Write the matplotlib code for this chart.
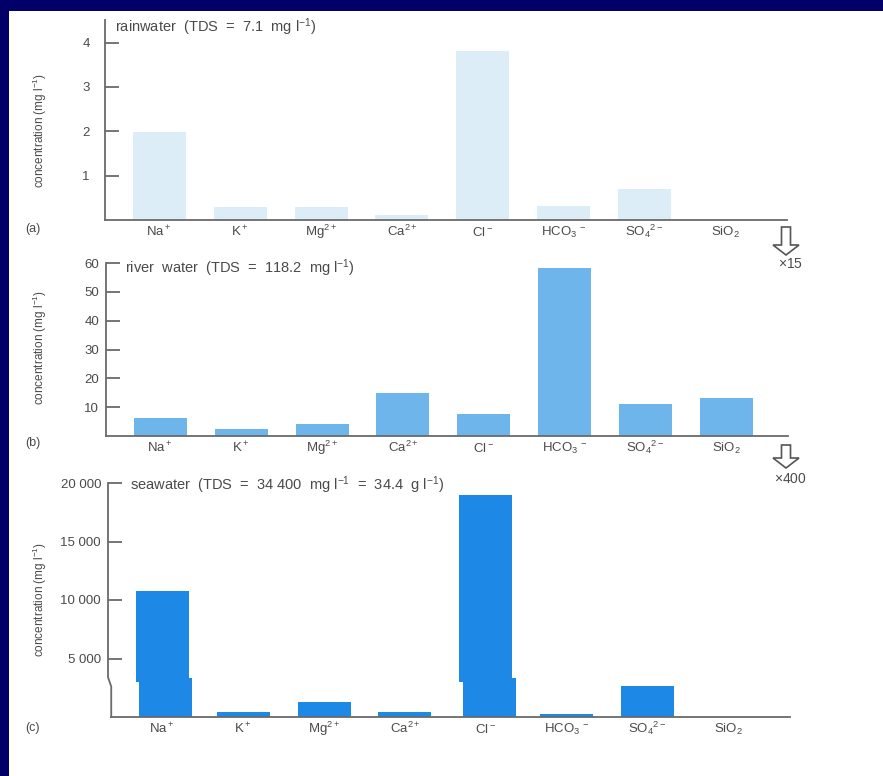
import matplotlib
matplotlib.use('Agg')
import matplotlib.pyplot as plt
from matplotlib.patches import Rectangle, FancyArrow

# ion labels and concentrations (mg l-1)
ions = [r'Na$^+$', r'K$^+$', r'Mg$^{2+}$', r'Ca$^{2+}$', r'Cl$^-$',
        r'HCO$_3$$^{\,-}$', r'SO$_4$$^{2-}$', r'SiO$_2$']
rain = [1.99, 0.30, 0.30, 0.11, 3.80, 0.32, 0.69, 0.0]
river = [6.3, 2.3, 4.1, 15.0, 7.8, 58.4, 11.2, 13.1]
sea = [10770, 450, 1290, 450, 19000, 250, 2650, 0]

rain_ticks = [1, 2, 3, 4]
river_ticks = [10, 20, 30, 40, 50, 60]
sea_ticks = [5000, 10000, 15000, 20000]
sea_ticklabels = ['5 000', '10 000', '15 000', '20 000']

W, H = 883, 776
plt.rcParams['font.family'] = ['Liberation Sans', 'DejaVu Sans']
plt.rcParams['mathtext.fontset'] = 'custom'
plt.rcParams['mathtext.rm'] = 'Liberation Sans'
plt.rcParams['mathtext.it'] = 'Liberation Sans:italic'
plt.rcParams['mathtext.bf'] = 'Liberation Sans:bold'

txt = '#4a4a4a'
axc = '#6a6a6a'

fig = plt.figure(figsize=(W / 100, H / 100), dpi=100, facecolor='#000068')
# white page
fig.patches.append(Rectangle((9 / W, 0), 1, 1 - 11 / H, transform=fig.transFigure,
                             facecolor='white', edgecolor='none', zorder=-5))


def px_axes(left, top, right, bottom):
    return fig.add_axes([left / W, 1 - bottom / H, (right - left) / W, (bottom - top) / H])


def ftext(x, y, s, **kw):
    kw.setdefault('color', txt)
    kw.setdefault('va', 'center')
    fig.text(x / W, 1 - y / H, s, **kw)


def style(ax, ylim, ticks, ticklabels, ypad):
    x = range(len(ions))
    ax.set_xlim(-0.67, 7.76)
    ax.set_ylim(*ylim)
    ax.set_facecolor('none')
    for s in ['top', 'right']:
        ax.spines[s].set_visible(False)
    for s in ['left', 'bottom']:
        ax.spines[s].set_color(axc)
        ax.spines[s].set_linewidth(1.3)
    ax.set_xticks(list(x))
    ax.set_xticklabels(ions, va='baseline')
    ax.set_yticks(ticks)
    ax.set_yticklabels(ticklabels)
    ax.tick_params(axis='x', length=0, pad=11.5, labelsize=9.5, labelcolor=txt)
    ax.tick_params(axis='y', direction='in', length=10, width=1.3, color=axc,
                   pad=ypad, labelsize=9.5, labelcolor=txt)


# (a) rainwater
ax1 = px_axes(105, 20, 787, 220)
ax1.bar(range(len(ions)), rain, width=0.655, color='#dcedf8')
style(ax1, (0, 4.51), rain_ticks, [str(t) for t in rain_ticks], 11)

# (b) river water
ax2 = px_axes(106, 263, 788, 436)
ax2.bar(range(len(ions)), river, width=0.655, color='#6db5ea')
style(ax2, (0, 60), river_ticks, [str(t) for t in river_ticks], 5)

# (c) seawater, tall bars drawn with a small break
ax3 = px_axes(108, 483, 790, 717)
brk = 3000
shift = 0.04
for i, v in enumerate(sea):
    if v > brk:
        ax3.bar(i, v - brk, bottom=brk, width=0.655, color='#1e88e6')
        ax3.bar(i + shift, brk + 300, width=0.655, color='#1e88e6')
    else:
        ax3.bar(i, v, width=0.655, color='#1e88e6')
style(ax3, (0, 20000), sea_ticks, sea_ticklabels, 5)
ax3.spines['left'].set_visible(False)
ax3.spines['bottom'].set_bounds(-0.67 + shift, 7.76)
x0 = -0.67
ax3.plot([x0, x0, x0 + shift, x0 + shift], [20000, 3400, 2600, 0],
         color=axc, lw=1.3, clip_on=False, solid_joinstyle='round')

# y labels
for yc in [131, 348, 600]:
    ftext(40, yc, r'concentration (mg l$^{-1}$)', rotation=90, ha='center',
          fontsize=8.5, family=['Liberation Sans Narrow', 'Liberation Sans'])

# panel titles
ftext(115, 27, r'rainwater  (TDS  =  7.1  mg l$^{-1}$)', fontsize=10.5)
ftext(125, 268, r'river  water  (TDS  =  118.2  mg l$^{-1}$)', fontsize=10.5)
ftext(130, 485, r'seawater  (TDS  =  34 400  mg l$^{-1}$  =  34.4  g l$^{-1}$)', fontsize=10.5)

# panel letters
ftext(33, 229, '(a)', ha='center', fontsize=9)
ftext(33, 443, '(b)', ha='center', fontsize=9)
ftext(33, 728, '(c)', ha='center', fontsize=9)

# hollow arrows with scale factors
for top, tip, label, ly in [(227, 255, r'$\times$15', 264), (445, 468, r'$\times$400', 479)]:
    fig.patches.append(FancyArrow(786 / W, 1 - top / H, 0, -(tip - top) / H,
                                  width=9 / W, head_width=26 / W,
                                  head_length=10 / H, length_includes_head=True,
                                  transform=fig.transFigure, facecolor='white',
                                  edgecolor='#555555', lw=1.2, zorder=5))
    ftext(790, ly, label, ha='center', fontsize=10)

fig.savefig('out.png', dpi=100, facecolor=fig.get_facecolor())
